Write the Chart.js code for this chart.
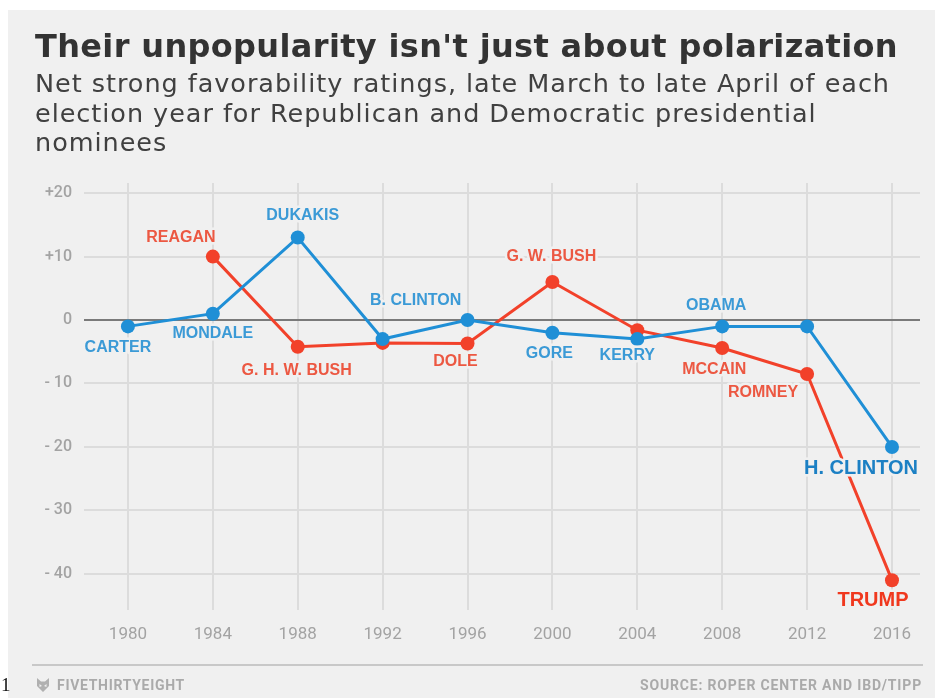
<!DOCTYPE html>
<html>
<head>
<meta charset="utf-8">
<title>Their unpopularity isn't just about polarization</title>
<script src="https://cdn.jsdelivr.net/npm/chart.js@4.4.1/dist/chart.umd.min.js"></script>
<style>
  html, body { margin: 0; padding: 0; background: #fff; }
  #wrap { position: relative; width: 935px; height: 698px; overflow: hidden; font-family: "Liberation Sans", Arial, sans-serif; }
  #panel { position: absolute; left: 8px; top: 10px; right: 0; bottom: 0; background: #f0f0f0; }
  #chart { position: absolute; left: 0; top: 0; }
  .txt { position: absolute; white-space: nowrap; }
  #title { left: 35px; top: 28px; font-family: "DejaVu Sans", sans-serif; font-size: 32px; line-height: 36px; font-weight: bold; color: #333; }
  #subtitle { left: 35px; top: 69px; font-family: "DejaVu Sans", sans-serif; font-size: 25.5px; line-height: 29.5px; color: #404040; }
  #subtitle div { white-space: nowrap; }
  #rule { position: absolute; left: 32px; top: 664px; width: 891px; height: 2px; background: #c8c8c8; }
  #brand { left: 57px; top: 677px; font-family: Roboto, sans-serif; font-size: 14px; line-height: 16px; font-weight: bold; color: #aaa; }
  #source { right: 13px; top: 677px; font-family: Roboto, sans-serif; font-size: 14px; line-height: 16px; font-weight: bold; color: #aaa; }
  #logo { position: absolute; left: 35px; top: 677px; }
  #pagenum { left: 1px; top: 674px; font-family: "Liberation Serif", serif; font-size: 19px; line-height: 22px; color: #111; }
</style>
</head>
<body>
<div id="wrap">
  <div id="panel"></div>
  <canvas id="chart" width="935" height="698"></canvas>
  <div id="title" class="txt">Their unpopularity isn't just about polarization</div>
  <div id="subtitle" class="txt">
    <div id="sub1">Net strong favorability ratings, late March to late April of each</div>
    <div>election year for Republican and Democratic presidential</div>
    <div>nominees</div>
  </div>
  <div id="rule"></div>
  <svg id="logo" width="16" height="16" viewBox="0 0 16 16">
    <path d="M2 1 L6 4.5 L10 4.5 L14 1 L14 9 L8 15 L2 9 Z M4.5 7 L7 9 L4.5 10 Z M11.5 7 L9 9 L11.5 10 Z" fill="#b0b0b0" fill-rule="evenodd"/>
  </svg>
  <div id="brand" class="txt">FIVETHIRTYEIGHT</div>
  <div id="source" class="txt">SOURCE: ROPER CENTER AND IBD/TIPP</div>
  <div id="pagenum" class="txt">1</div>
</div>
<script>
// election years on the x axis
const years = [1980, 1984, 1988, 1992, 1996, 2000, 2004, 2008, 2012, 2016];
const yTicks = [-40, -30, -20, -10, 0, 10, 20];

// net strong favorability, Democratic nominees
const demValues = [-1, 1, 13, -3, 0, -2, -3, -1, -1, -20];
const demNames = ['CARTER', 'MONDALE', 'DUKAKIS', 'B. CLINTON', '', 'GORE', 'KERRY', 'OBAMA', '', 'H. CLINTON'];

// net strong favorability, Republican nominees (no reading for 1980)
const repValues = [null, 10, -4.2, -3.6, -3.7, 6, -1.6, -4.4, -8.5, -41];
const repNames = ['', 'REAGAN', 'G. H. W. BUSH', '', 'DOLE', 'G. W. BUSH', '', 'MCCAIN', 'ROMNEY', 'TRUMP'];

const BLUE = '#1f8fd6';
const RED = '#f2412a';

// where each name sits relative to its point [dx, dy]
const labelOffsets = {
  dem: [[-10, 21], [0, 20], [5, -22], [33, -38], null, [-3, 21], [-10, 17], [-6, -21], null, [-31, 22]],
  rep: [null, [-32, -19], [-1, 24], null, [-12, 18], [-1, -25], null, [-8, 22], [-44, 19], [-19, 20]]
};

function fitText(el, target, ref) {
  const w = (ref || el).getBoundingClientRect().width;
  const n = (ref || el).textContent.trim().length;
  el.style.letterSpacing = ((target - w) / n) + 'px';
}

const nameLabels = {
  id: 'nameLabels',
  afterDatasetsDraw(chart) {
    const ctx = chart.ctx;
    chart.data.datasets.forEach((ds, i) => {
      const meta = chart.getDatasetMeta(i);
      ds.names.forEach((name, j) => {
        const off = ds.offsets[j];
        if (!name || !off) return;
        const pt = meta.data[j];
        const big = j === ds.names.length - 1;
        ctx.save();
        ctx.font = 'bold ' + (big ? 20 : 16) + 'px "Liberation Sans", Arial, sans-serif';
        ctx.textAlign = 'center';
        ctx.textBaseline = 'middle';
        ctx.lineJoin = 'round';
        ctx.lineWidth = 5;
        ctx.strokeStyle = '#f0f0f0';
        ctx.strokeText(name, pt.x + off[0], pt.y + off[1]);
        ctx.fillStyle = big ? ds.bigLabelColor : ds.labelColor;
        ctx.fillText(name, pt.x + off[0], pt.y + off[1]);
        ctx.restore();
      });
    });
  }
};

const ctx = document.getElementById('chart').getContext('2d');
new Chart(ctx, {
  type: 'line',
  data: {
    datasets: [
      {
        label: 'Democratic nominee',
        data: years.map((yr, i) => ({ x: yr, y: demValues[i] })),
        names: demNames,
        offsets: labelOffsets.dem,
        labelColor: '#3b9ad6',
        bigLabelColor: '#1c80c4',
        borderColor: BLUE,
        backgroundColor: BLUE,
        borderWidth: 3,
        pointRadius: 7,
        pointBorderWidth: 0,
        tension: 0
      },
      {
        label: 'Republican nominee',
        data: years.map((yr, i) => ({ x: yr, y: repValues[i] })),
        names: repNames,
        offsets: labelOffsets.rep,
        labelColor: '#ec5842',
        bigLabelColor: '#f0381e',
        borderColor: RED,
        backgroundColor: RED,
        borderWidth: 3,
        pointRadius: 7,
        pointBorderWidth: 0,
        tension: 0
      }
    ]
  },
  options: {
    responsive: false,
    animation: false,
    layout: { padding: { left: 0, right: 15, top: 183, bottom: 48 } },
    plugins: { legend: { display: false }, tooltip: { enabled: false } },
    scales: {
      x: {
        type: 'linear',
        min: 1977.93,
        max: 2017.32,
        afterBuildTicks: (scale) => { scale.ticks = years.map(v => ({ value: v })); },
        afterFit: (scale) => { scale.height = 40; },
        border: { display: false },
        grid: { color: '#dcdcdc', lineWidth: 2, drawTicks: false },
        ticks: {
          autoSkip: false,
          maxRotation: 0,
          padding: 15,
          color: '#a3a3a3',
          font: { family: 'Roboto', size: 17 },
          callback: (v) => String(v)
        }
      },
      y: {
        min: -45.7,
        max: 21.6,
        afterBuildTicks: (scale) => { scale.ticks = yTicks.map(v => ({ value: v })); },
        afterFit: (scale) => { scale.width = 84; },
        border: { display: false },
        grid: {
          drawTicks: false,
          color: (c) => c.tick && c.tick.value === 0 ? '#7a7a7a' : '#dcdcdc',
          lineWidth: 2
        },
        ticks: {
          padding: 12,
          color: '#a3a3a3',
          font: { family: 'Roboto', size: 16, weight: '500' },
          callback: (v) => v > 0 ? '+' + v : v < 0 ? '- ' + (-v) : '0'
        }
      }
    }
  },
  plugins: [nameLabels]
});

fitText(document.getElementById('title'), 863);
fitText(document.getElementById('subtitle'), 855, document.getElementById('sub1'));
fitText(document.getElementById('brand'), 128);
fitText(document.getElementById('source'), 282);
</script>
</body>
</html>
